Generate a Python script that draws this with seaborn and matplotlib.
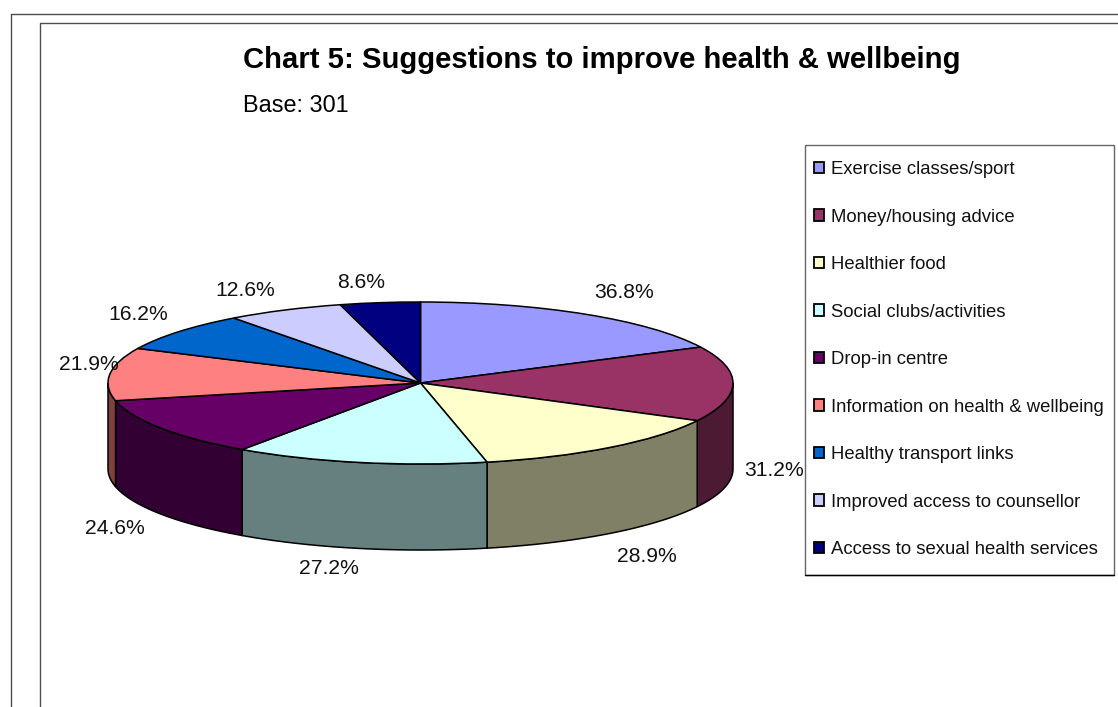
import numpy as np
import matplotlib
matplotlib.use("Agg")
import matplotlib.pyplot as plt
from matplotlib.colors import to_rgb
from matplotlib.lines import Line2D
from matplotlib.patches import Patch, Polygon, Rectangle
import seaborn as sns

categories = [
    "Exercise classes/sport",
    "Money/housing advice",
    "Healthier food",
    "Social clubs/activities",
    "Drop-in centre",
    "Information on health & wellbeing",
    "Healthy transport links",
    "Improved access to counsellor",
    "Access to sexual health services",
]
shares = [36.8, 31.2, 28.9, 27.2, 24.6, 21.9, 16.2, 12.6, 8.6]
slice_colors = ["#9999ff", "#993366", "#ffffcc", "#ccffff", "#660066",
                "#ff8080", "#0066cc", "#ccccff", "#000080"]
title_text = "Chart 5: Suggestions to improve health & wellbeing"
base_text = "Base: 301"

# Label centres in canvas pixels, one per slice
label_xy = [(624, 293), (774, 471), (647, 556), (329, 569), (115, 528),
            (89, 364), (138, 314), (245, 290), (361, 282)]

W, H = 1118, 707
CX, CY, RX, RY, DEPTH = 420.5, 383.0, 312.5, 81.0, 86.0
LW = 1.1
FONT = "Liberation Sans"

sns.set_theme(style="white")
plt.rcParams["font.family"] = [FONT, "DejaVu Sans"]
palette = sns.color_palette(slice_colors)

fig = plt.figure(figsize=(W / 100, H / 100), dpi=100, facecolor="white")

# Pixel-addressed canvas for the frame lines and the free-standing text
canvas = fig.add_axes([0, 0, 1, 1], zorder=3)
canvas.set_xlim(0, W)
canvas.set_ylim(H, 0)
canvas.axis("off")
canvas.patch.set_alpha(0)

for x, y in [(10.5, 13.5), (39.5, 22.5)]:
    canvas.add_line(Line2D([x, x, W], [H, y, y], color="#4d4d4d", lw=1.0))

canvas.text(243, 59.5, title_text, fontsize=21.1, fontweight="bold",
            color="black", ha="left", va="center")
canvas.text(243, 105.5, base_text, fontsize=16.9, color="black", ha="left", va="center")

# The pie is a unit circle stretched to an ellipse by the axes box
pie_ax = fig.add_axes([(CX - RX) / W, 1 - (CY + RY) / H, 2 * RX / W, 2 * RY / H], zorder=2)
wedges, _ = pie_ax.pie(
    shares, colors=palette, startangle=90, counterclock=False, radius=1,
    wedgeprops=dict(edgecolor="black", linewidth=LW, zorder=3),
)
pie_ax.set_aspect("auto")
pie_ax.set_xlim(-1, 1)
pie_ax.set_ylim(-1, 1)
pie_ax.axis("off")
drop = DEPTH / RY

# Rim of the disc: only the part of each slice on the near half is visible
for wedge, color in zip(wedges, palette):
    t = np.radians(np.linspace(wedge.theta1, wedge.theta2, 1500))
    t = t[np.sin(t) <= 0]
    if t.size < 2:
        continue
    x, y = np.cos(t), np.sin(t)
    outline = np.column_stack([np.r_[x, x[::-1]], np.r_[y, y[::-1] - drop]])
    shade = tuple(c * 0.5 for c in to_rgb(color))
    pie_ax.add_patch(Polygon(outline, closed=True, facecolor=shade, edgecolor="black",
                             linewidth=LW, zorder=2, clip_on=False))

for value, (x, y) in zip(shares, label_xy):
    canvas.text(x, y, f"{value:.1f}%", fontsize=15.2, color="#111111", ha="center", va="center")

# Legend box: three grey sides with a black base line
canvas.add_patch(Rectangle((805, 145), 309, 429.5, facecolor="white", edgecolor="#666666", lw=1.0, zorder=1))
canvas.add_line(Line2D([805, 1114], [574.5, 574.5], color="black", lw=1.0, zorder=1.5))

handles = [Patch(facecolor=c, edgecolor="black", linewidth=1.3) for c in palette]
legend = canvas.legend(
    handles, categories, loc="upper left",
    bbox_to_anchor=(813.5 / W, 1 - 161 / H), bbox_transform=fig.transFigure,
    fontsize=13.35, frameon=False,
    handlelength=0.58, handleheight=0.58, handletextpad=0.36,
    labelspacing=1.645, borderpad=0, borderaxespad=0,
)
for label in legend.get_texts():
    label.set_color("#111111")

fig.savefig("out.png", dpi=100)
